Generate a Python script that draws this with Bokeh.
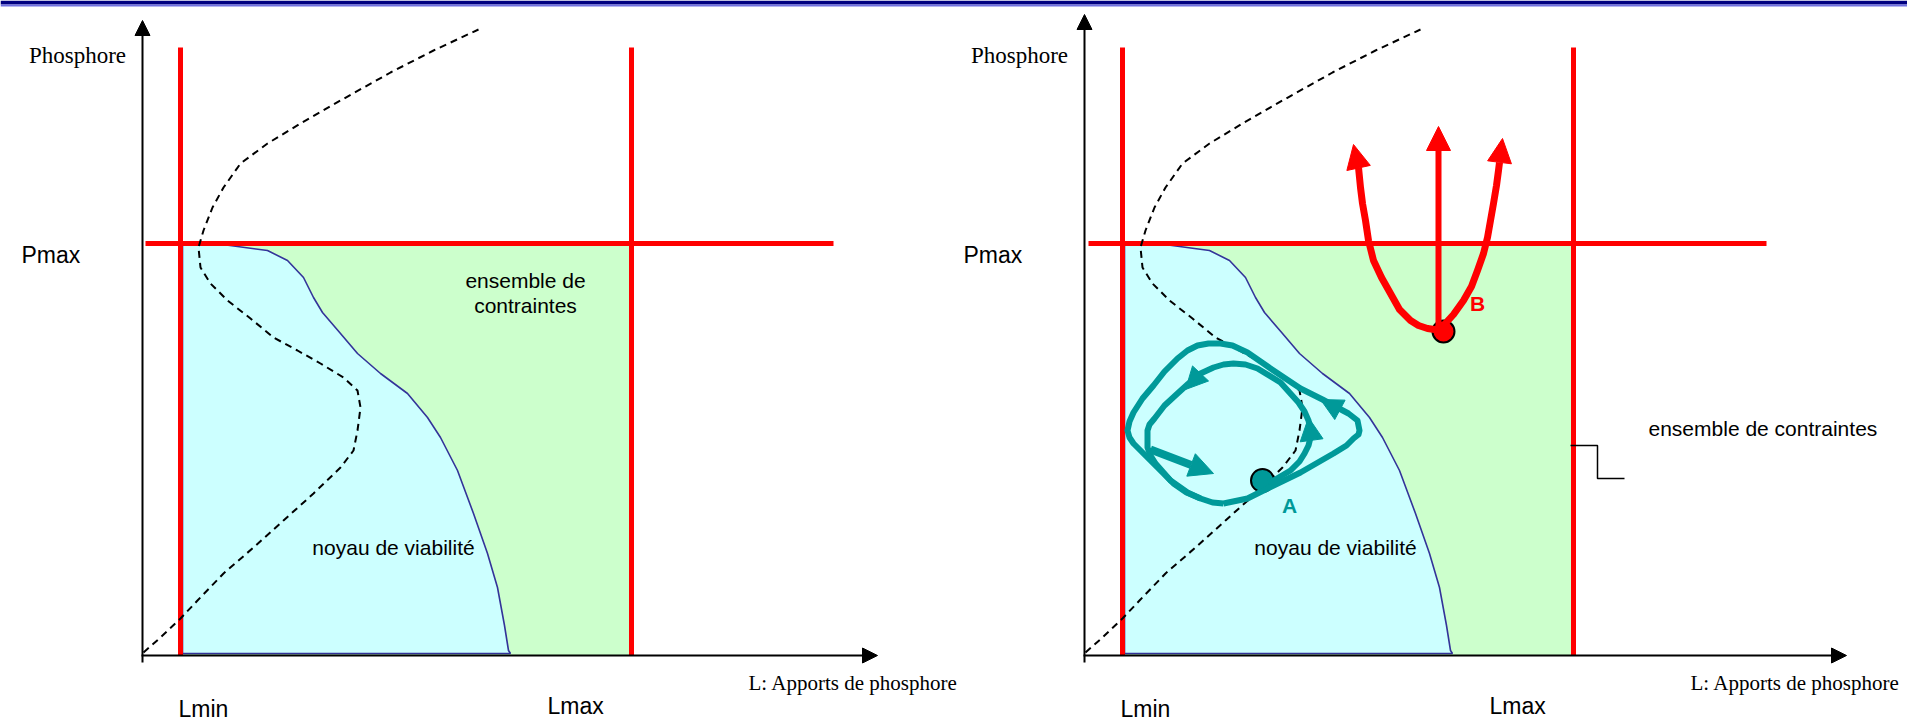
from bokeh.plotting import figure
from bokeh.models import Range1d, Arrow, NormalHead
from bokeh.core.properties import value
from bokeh.embed import file_html
from bokeh.resources import INLINE

# ---------------- data (diagram units: L horizontal, P vertical, origin at the axes) -------------
PANEL_SHIFT = [0, 942]          # second panel is a copy of the first, shifted right

L_MIN = 38
L_MAX = 489
P_MAX = 412
LINE_TOP = 608                  # top of the Lmin / Lmax constraint lines
PMAX_LINE_START = [3, 4]
PMAX_LINE_END = [691, 682]
X_AXIS_END = [735, 762]
Y_AXIS_END = [635, 641]

# viability kernel boundary
kernel_L = [40, 80, 125, 145, 161, 171, 180, 198, 215, 238, 265, 285, 298, 315, 331, 345, 355, 362, 366, 368, 40]
kernel_P = [413, 411, 405, 395, 378, 358, 343, 322, 302, 282, 262, 238, 218, 185, 142, 102, 68, 30, 5, 2, 2]

# dashed equilibrium curve
dash_L = [1, 18, 38, 55, 81, 111, 141, 171, 198, 211, 215, 218, 215, 201, 178, 155, 131, 108, 85, 68,
          58, 56, 61, 70, 81, 98, 125, 158, 198, 248, 291, 336]
dash_P = [3, 18, 37, 55, 82, 108, 135, 162, 188, 205, 225, 248, 265, 278, 292, 305, 318, 337, 355, 372,
          388, 408, 425, 448, 468, 492, 512, 532, 555, 583, 605, 626]

# trajectories around A (second panel)
outer_L = [139, 163, 185, 216, 249, 262, 269, 274, 275, 273, 264, 249, 238, 216, 189, 163, 148, 136, 124, 113,
           103, 93, 80, 69, 58, 49, 45, 43, 45, 49, 57, 66, 78, 89, 102, 116, 128, 139]
outer_P = [152, 157, 168, 183, 202, 210, 217, 221, 225, 235, 242, 250, 256, 267, 285, 303, 310, 312, 312, 310,
           305, 297, 284, 270, 257, 243, 234, 225, 218, 212, 204, 195, 183, 172, 163, 157, 153, 152]
inner_L = [184, 206, 215, 220, 224, 226, 226, 224, 220, 214, 196, 173, 161, 149, 139, 129, 116, 104, 93, 80,
           70, 65, 63, 63, 66, 71, 86, 103, 116]
inner_P = [172, 185, 194, 202, 210, 218, 226, 235, 244, 253, 273, 287, 291, 292, 291, 288, 282, 272, 262, 250,
           237, 231, 225, 208, 200, 192, 175, 163, 157]
teal_heads = [  # (L_base, P_base, L_tip, P_tip, size)
    (251, 248, 236, 256, 22),
    (227, 216, 224, 238, 23),
    (116, 282, 101, 266, 22),
]
big_arrow = (66, 206, 129, 182)
A_point = (178, 175)

# trajectories leaving from B (second panel)
B_point = (359, 324)
redL_L = [359, 350, 343, 334, 326, 315, 306, 297, 289, 284, 281, 278, 276, 274]
redL_P = [327, 326, 327, 330, 335, 346, 362, 378, 395, 415, 435, 452, 468, 488]
redR_L = [359, 369, 379, 387, 393, 399, 403, 406, 409, 412, 414, 415]
redR_P = [330, 341, 355, 369, 385, 402, 418, 435, 452, 470, 485, 493]
red_heads = [(274, 488, 269, 511), (415, 493, 418, 517)]
red_vertical = (354, 324, 354, 529)

bracket_L = [486, 513, 513, 540]
bracket_P = [210, 210, 177, 177]

# colours / fonts
GREEN = "#CCFFCC"
CYAN = "#CCFFFF"
BLUE = "#333399"
RED = "#FF0000"
TEAL = "#009999"
SANS = "Liberation Sans"
SERIF = "Liberation Serif"

# ---------------- figure ----------------
W, H = 1907, 720
p = figure(width=W, height=H, output_backend="svg", toolbar_location=None,
           x_range=Range1d(-142, 1765), y_range=Range1d(-65, 655),
           x_axis_type=None, y_axis_type=None, min_border=0,
           outline_line_color=None, background_fill_color="white", border_fill_color="white")
p.grid.visible = False

# top banner
p.quad(left=[-142], right=[1765], bottom=[651], top=[655], fill_color="#000080", line_color=None)
p.quad(left=[-142], right=[1765], bottom=[649], top=[651], fill_color="#7070e0", line_color=None)


def sh(xs, s):
    return [x + s for x in xs]


def text(x, y, t, size, font=SANS, align="left", color="black", style="normal"):
    p.text(x=[x], y=[y], text=[t], text_font=value(font), text_font_size=value(size),
           text_align=align, text_baseline="middle", text_color=color, text_font_style=style)


for i, s in enumerate(PANEL_SHIFT):
    # constraint set
    p.quad(left=[L_MIN + s], right=[L_MAX + s], bottom=[0], top=[P_MAX], fill_color=GREEN, line_color=None)
    # viability kernel
    p.patch(sh(kernel_L, s), kernel_P, fill_color=CYAN, line_color=BLUE, line_width=1.6)
    # constraint lines
    p.line([L_MIN + s, L_MIN + s], [0, LINE_TOP], line_color=RED, line_width=5)
    p.line([L_MAX + s, L_MAX + s], [0, LINE_TOP], line_color=RED, line_width=5)
    p.line([PMAX_LINE_START[i] + s, PMAX_LINE_END[i] + s], [P_MAX, P_MAX], line_color=RED, line_width=5)
    # dashed curve
    p.line(sh(dash_L, s), dash_P, line_color="black", line_width=2, line_dash="7 5")
    # axes
    p.add_layout(Arrow(end=NormalHead(size=15, fill_color="black", line_color="black"),
                       x_start=s, y_start=-7, x_end=s, y_end=Y_AXIS_END[i],
                       line_color="black", line_width=2))
    p.add_layout(Arrow(end=NormalHead(size=15, fill_color="black", line_color="black"),
                       x_start=s - 1, y_start=0, x_end=X_AXIS_END[i] + s, y_end=0,
                       line_color="black", line_width=2))
    # labels
    text(-65 + s, 600, "Phosphore", "23px", font=SERIF, align="center")
    text(-121 + s, 401, "Pmax", "23px")
    text(36 + s, -53, "Lmin", "23px")
    text(405 + s, -50, "Lmax", "23px")
    text(606 + s, -27, "L: Apports de phosphore", "21px", font=SERIF)
    text(251 + s, 108, "noyau de viabilit\u00e9", "21px", align="center")

s0, s1 = PANEL_SHIFT
text(383 + s0, 375, "ensemble de", "21px", align="center")
text(383 + s0, 350, "contraintes", "21px", align="center")
text(564 + s1, 227, "ensemble de contraintes", "21px")
p.line(sh(bracket_L, s1), bracket_P, line_color="black", line_width=1.5)

# A and its trajectories
p.scatter([A_point[0] + s1], [A_point[1]], size=23, fill_color=TEAL, line_color="black", line_width=2)
p.line(sh(outer_L, s1), outer_P, line_color=TEAL, line_width=6, line_join="round")
p.line(sh(inner_L, s1), inner_P, line_color=TEAL, line_width=6, line_join="round")
for (lb, pb, lt, pt, sz) in teal_heads:
    p.add_layout(Arrow(end=NormalHead(size=sz, fill_color=TEAL, line_color=TEAL),
                       x_start=lb + s1, y_start=pb, x_end=lt + s1, y_end=pt, line_alpha=0))
p.add_layout(Arrow(end=NormalHead(size=24, fill_color=TEAL, line_color=TEAL),
                   x_start=big_arrow[0] + s1, y_start=big_arrow[1], x_end=big_arrow[2] + s1, y_end=big_arrow[3],
                   line_color=TEAL, line_width=8))
text(205 + s1, 150, "A", "21px", color=TEAL, style="bold", align="center")

# B and its trajectories
p.scatter([B_point[0] + s1], [B_point[1]], size=22, fill_color=RED, line_color="black", line_width=2)
p.line(sh(redL_L, s1), redL_P, line_color=RED, line_width=7, line_join="round")
p.line(sh(redR_L, s1), redR_P, line_color=RED, line_width=7, line_join="round")
for (lb, pb, lt, pt) in red_heads:
    p.add_layout(Arrow(end=NormalHead(size=24, fill_color=RED, line_color=RED),
                       x_start=lb + s1, y_start=pb, x_end=lt + s1, y_end=pt, line_alpha=0))
p.add_layout(Arrow(end=NormalHead(size=24, fill_color=RED, line_color=RED),
                   x_start=red_vertical[0] + s1, y_start=red_vertical[1],
                   x_end=red_vertical[2] + s1, y_end=red_vertical[3], line_color=RED, line_width=6))
text(393 + s1, 352, "B", "21px", color=RED, style="bold", align="center")

open("out.html", "w").write(file_html(p, INLINE))
